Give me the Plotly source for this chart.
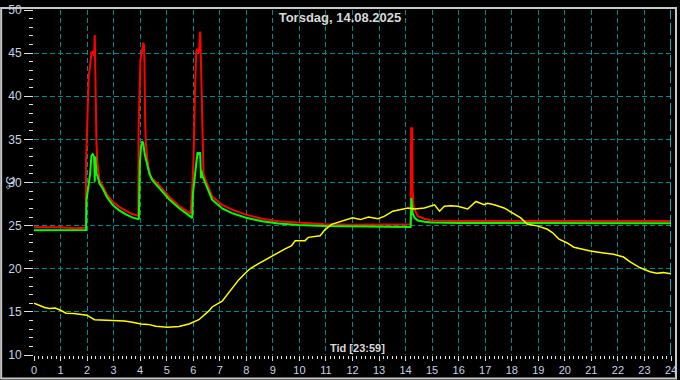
import plotly.graph_objects as go

# ---------------- data ----------------
title_text = "Torsdag, 14.08.2025"
x_label = "Tid [23:59]"
y_label = "°C"

red_t = [0.0, 1.0, 1.5, 1.95, 1.963, 2.013, 2.063, 2.114, 2.164, 2.214, 2.264, 2.289, 2.314, 2.351,
         2.389, 2.426, 2.464, 2.59, 2.75, 2.96, 3.2, 3.46, 3.7, 3.93,
         3.94, 3.975, 4.01, 4.06, 4.11, 4.14, 4.16, 4.19, 4.21, 4.26, 4.31, 4.40, 4.46, 4.71, 5.09, 5.46, 5.90,
         5.963, 6.013, 6.063, 6.113, 6.163, 6.213, 6.263, 6.313, 6.338, 6.388, 6.463,
         6.71, 7.09, 7.46, 7.96, 8.59, 9.21, 9.96, 10.96, 12.0, 13.0, 14.19,
         14.21, 14.25, 14.26, 14.30, 14.34, 14.46, 14.71, 14.96, 16.0, 18.0, 20.0, 22.0, 24.0]
red_v = [24.8, 24.8, 24.7, 24.75, 32.5, 37.8, 42.4, 43.5, 45.0, 45.2, 44.7, 47.1, 41.4, 34.8,
         32.2, 31.0, 30.3, 29.6, 28.6, 27.8, 27.2, 26.7, 26.35, 26.15,
         36.1, 40.1, 44.3, 45.0, 46.2, 46.0, 44.3, 36.7, 34.8, 33.0, 31.8, 30.6, 30.45, 29.7, 28.35, 27.3, 26.4,
         29.5, 33.0, 40.5, 45.2, 45.5, 45.0, 47.5, 41.2, 35.2, 31.0, 30.3,
         28.4, 27.4, 26.85, 26.3, 25.8, 25.5, 25.34, 25.15, 25.1, 25.1, 25.15,
         36.3, 36.3, 29.3, 27.3, 26.85, 26.1, 25.8, 25.6, 25.53, 25.53, 25.53, 25.53, 25.53]

green_t = [0.0, 1.0, 1.96, 1.98, 2.063, 2.114, 2.164, 2.214, 2.264, 2.289, 2.314, 2.351, 2.389, 2.426,
           2.464, 2.59, 2.75, 2.96, 3.2, 3.46, 3.7, 3.93,
           3.95, 3.99, 4.03, 4.08, 4.12, 4.17, 4.22, 4.27, 4.35, 4.46, 4.71, 5.09, 5.46, 5.90,
           5.96, 5.99, 6.06, 6.11, 6.16, 6.21, 6.26, 6.29, 6.31, 6.34, 6.39, 6.46,
           6.71, 7.09, 7.46, 7.96, 8.59, 9.21, 9.96, 10.96, 12.0, 13.0, 14.19,
           14.22, 14.26, 14.34, 14.46, 14.71, 14.96, 16.0, 18.0, 20.0, 22.0, 24.0]
green_v = [24.45, 24.45, 24.5, 28.0, 30.1, 31.0, 33.1, 33.3, 33.0, 30.1, 33.0, 31.0, 30.8, 30.4,
           29.9, 29.3, 28.3, 27.4, 26.8, 26.3, 25.95, 25.75,
           25.8, 32.2, 34.1, 34.8, 34.5, 33.3, 32.6, 31.8, 31.0, 30.26, 29.4, 28.06, 27.05, 26.02,
           25.9, 28.75, 31.0, 32.2, 33.5, 33.3, 33.5, 30.5, 31.4, 30.8, 30.4, 30.0,
           28.0, 27.0, 26.45, 25.95, 25.5, 25.25, 25.07, 24.95, 24.9, 24.85, 24.85,
           28.2, 26.5, 25.9, 25.6, 25.45, 25.35, 25.3, 25.3, 25.27, 25.27, 25.27]

yellow_t = [0.0, 0.21, 0.4, 0.59, 0.8, 1.0, 1.21, 1.5, 1.71, 1.99, 2.28, 2.6, 3.0, 3.4, 3.71, 4.03, 4.3,
            4.59, 5.03, 5.46, 5.84, 6.21, 6.59, 6.71, 7.09, 7.46, 7.71, 7.96, 8.15, 8.46, 8.84,
            9.09, 9.46, 9.71, 9.84, 10.21, 10.34, 10.78, 10.96, 11.21, 11.4, 11.7, 12.0, 12.3,
            12.6, 12.96, 13.21, 13.52, 13.84, 14.09, 14.34, 14.71, 15.09, 15.28, 15.46, 15.71,
            15.96, 16.34, 16.65, 16.96, 17.09, 17.34, 17.71, 18.02, 18.34, 18.59, 18.96, 19.34,
            19.53, 19.78, 20.09, 20.34, 20.59, 20.96, 21.46, 21.84, 22.21, 22.46, 22.84, 23.21,
            23.46, 23.71, 24.0]
yellow_v = [16.0, 15.76, 15.5, 15.38, 15.45, 15.19, 14.85, 14.8, 14.73, 14.62, 14.09, 14.05, 13.98,
            13.95, 13.79, 13.6, 13.55, 13.33, 13.22, 13.3, 13.6, 14.09, 15.11, 15.57, 16.25, 17.76,
            18.71, 19.47, 20.03, 20.6, 21.25, 21.74, 22.3, 22.69, 23.26, 23.26, 23.64, 23.83,
            24.51, 25.15, 25.34, 25.6, 25.9, 25.7, 26.0, 25.8, 26.1, 26.67, 26.85, 27.05, 26.93,
            27.05, 27.42, 26.67, 27.24, 27.3, 27.24, 26.93, 27.8, 27.42, 27.6, 27.42, 27.05,
            26.48, 25.9, 25.15, 24.97, 24.58, 24.2, 23.44, 22.99, 22.5, 22.3, 22.05, 21.82,
            21.67, 21.36, 20.8, 20.11, 19.66, 19.47, 19.55, 19.43]

x_range = [0, 24]
y_range = [10, 50]

# ---------------- layout constants ----------------
W, H = 680, 380
ML, MR, MT, MB = 34, 6, 3, 25
PW, PH = W - ML - MR, H - MT - MB

GRID = "#008c8c"
TICKC = "#e0e0e0"
LABC = "#c8d2e4"
FONT = "Liberation Sans, Arial, sans-serif"

fig = go.Figure()
fig.add_trace(go.Scatter(x=red_t, y=red_v, mode="lines", line=dict(color="#ff0000", width=2),
                         hoverinfo="skip"))
fig.add_trace(go.Scatter(x=green_t, y=green_v, mode="lines", line=dict(color="#00ff00", width=2),
                         hoverinfo="skip"))
fig.add_trace(go.Scatter(x=yellow_t, y=yellow_v, mode="lines", line=dict(color="#ffff00", width=1.5),
                         hoverinfo="skip"))

fig.update_layout(
    width=W, height=H,
    margin=dict(l=ML, r=MR, t=MT, b=MB, pad=0),
    paper_bgcolor="#000000", plot_bgcolor="#000000",
    showlegend=False,
    font=dict(family=FONT, size=11, color=LABC),
    title=dict(text=title_text, x=0.5, xref="container", xanchor="center",
               y=1 - 17 / H, yref="container", yanchor="middle",
               font=dict(family=FONT, size=13, color="#d8d8d8", weight="bold")),
    xaxis=dict(range=x_range, dtick=1, tick0=0, showgrid=True, gridcolor=GRID, gridwidth=1,
               griddash="5px,3px", zeroline=False, showline=False,
               ticks="outside", ticklen=5, tickcolor=TICKC, tickwidth=1,
               ticklabeloverflow="allow",
               tickfont=dict(family=FONT, size=11, color=LABC),
               minor=dict(dtick=1 / 6, ticks="outside", ticklen=3, tickcolor=TICKC, showgrid=False)),
    yaxis=dict(range=y_range, dtick=5, tick0=10, showgrid=True, gridcolor=GRID, gridwidth=1,
               griddash="5px,3px", zeroline=False, showline=False,
               ticks="outside", ticklen=9, tickcolor=TICKC, tickwidth=1,
               ticklabeloverflow="allow",
               tickfont=dict(family=FONT, size=12, color=LABC),
               minor=dict(dtick=1, ticks="outside", ticklen=4, tickcolor=TICKC, showgrid=False)),
)

# right edge line (x = 24) in brighter cyan
fig.add_shape(type="line", xref="x", yref="paper", x0=x_range[1], x1=x_range[1], y0=0, y1=1,
              line=dict(color="#20e0f0", width=1.5, dash="12px,4px"))

# outer frame
fig.add_shape(type="rect", xref="paper", yref="paper",
              x0=-(ML - 1) / PW, x1=1 + (MR - 1) / PW, y0=-(MB - 1) / PH, y1=1 + (MT - 1) / PH,
              line=dict(color="#c8c8c8", width=2), fillcolor="rgba(0,0,0,0)", layer="above")

fig.add_annotation(text=x_label, xref="paper", yref="paper", x=(359 - ML) / PW, y=(H - MB - 348) / PH,
                   xanchor="center", yanchor="middle", showarrow=False,
                   font=dict(family=FONT, size=11, color="#d8d8d8", weight="bold"))
fig.add_annotation(text=y_label, xref="paper", yref="paper", x=(10 - ML) / PW, y=0.5,
                   xanchor="center", yanchor="middle", showarrow=False, textangle=-90,
                   font=dict(family=FONT, size=12, color=LABC))

fig.write_html("out.html")
